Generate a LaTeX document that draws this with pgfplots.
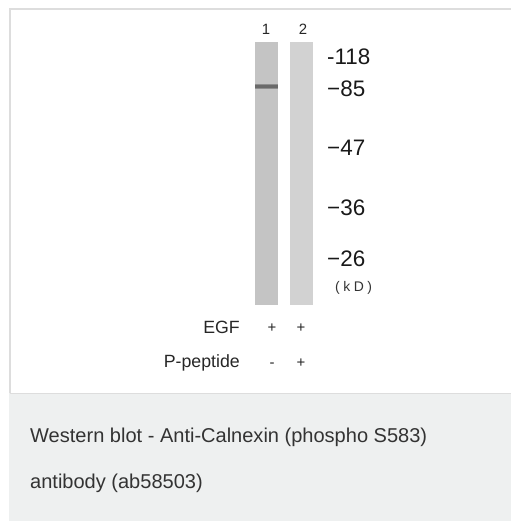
\documentclass[border=0pt]{standalone}
\usepackage{pgfplots}
\pgfplotsset{compat=1.18}
\usepackage{fontspec}
\setmainfont{Liberation Sans}

\definecolor{frame}{HTML}{DDDDDD}
\definecolor{capbg}{HTML}{EEF0F0}
\definecolor{capfg}{HTML}{333333}
\definecolor{laneA}{HTML}{C4C4C4}
\definecolor{laneB}{HTML}{D2D2D2}
\definecolor{bandcore}{HTML}{6A6A6A}
\definecolor{bandedge}{HTML}{8E8E8E}

% lane outlines (x in px, y in px from the top)
\pgfplotstableread{
x y
255 42
278 42
278 305
255 305
}\laneone
\pgfplotstableread{
x y
290 42
313 42
313 305
290 305
}\lanetwo
% the one band, lane 1, near 85 kD
\pgfplotstableread{
x y
255 87
278 87
}\bandone

\newcommand{\fs}[1]{\fontsize{#1}{#1}\selectfont}

\begin{document}
\begin{tikzpicture}
\useasboundingbox (0,0) rectangle (511bp,521bp);
\begin{axis}[
    at={(0,0)}, anchor=south west,
    width=511bp, height=521bp, scale only axis,
    xmin=0, xmax=511, ymin=0, ymax=521,
    y dir=reverse,
    hide axis, clip=false,
]
    % caption panel and frame
    \addplot[fill=capbg, draw=none] coordinates {(9,393) (511,393) (511,521) (9,521)} -- cycle;
    \addplot[draw=frame, line width=1.2bp] coordinates {(10,393) (10,9) (511,9)};
    \addplot[draw=frame, line width=1bp] coordinates {(10,393) (511,393)};

    % lanes
    \addplot[fill=laneA, draw=none] table {\laneone} -- cycle;
    \addplot[fill=laneB, draw=none] table {\lanetwo} -- cycle;
    \addplot[draw=bandedge, line width=5bp] table {\bandone};
    \addplot[draw=bandcore, line width=3bp] table {\bandone};

    % lane numbers
    \node[anchor=base, text=black!85] at (axis cs:266,35) {\fs{15}1};
    \node[anchor=base, text=black!85] at (axis cs:303,35) {\fs{15}2};

    % molecular weight markers
    \node[anchor=west, inner sep=0pt, text=black!90] at (axis cs:327,57) {\fs{22.5}-118};
    \node[anchor=west, inner sep=0pt, text=black!90] at (axis cs:327,89) {\fs{22.5}−85};
    \node[anchor=west, inner sep=0pt, text=black!90] at (axis cs:327,148) {\fs{22.5}−47};
    \node[anchor=west, inner sep=0pt, text=black!90] at (axis cs:327,208) {\fs{22.5}−36};
    \node[anchor=west, inner sep=0pt, text=black!90] at (axis cs:327,259) {\fs{22.5}−26};
    \node[anchor=west, inner sep=0pt, text=black!80] at (axis cs:335,288)
        {\fs{14}(\hspace{3.5bp}k\hspace{3.5bp}D\hspace{3.5bp})};

    % treatment rows
    \node[anchor=base east, inner sep=0pt, text=black!85] at (axis cs:240,333) {\fs{17.8}EGF};
    \node[anchor=base, inner sep=0pt, text=black!85] at (axis cs:272,332) {\fs{15}+};
    \node[anchor=base, inner sep=0pt, text=black!85] at (axis cs:301,332) {\fs{15}+};
    \node[anchor=base east, inner sep=0pt, text=black!85] at (axis cs:240,367) {\fs{17.8}P-peptide};
    \node[anchor=base, inner sep=0pt, text=black!85] at (axis cs:272,367) {\fs{15}-};
    \node[anchor=base, inner sep=0pt, text=black!85] at (axis cs:301,367) {\fs{15}+};

    % caption
    \node[anchor=base west, inner sep=0pt, text=capfg] at (axis cs:30,442)
        {\fs{20.1}Western blot - Anti-Calnexin (phospho S583)};
    \node[anchor=base west, inner sep=0pt, text=capfg] at (axis cs:30,488)
        {\fs{20.1}antibody (ab58503)};
\end{axis}
\end{tikzpicture}
\end{document}
